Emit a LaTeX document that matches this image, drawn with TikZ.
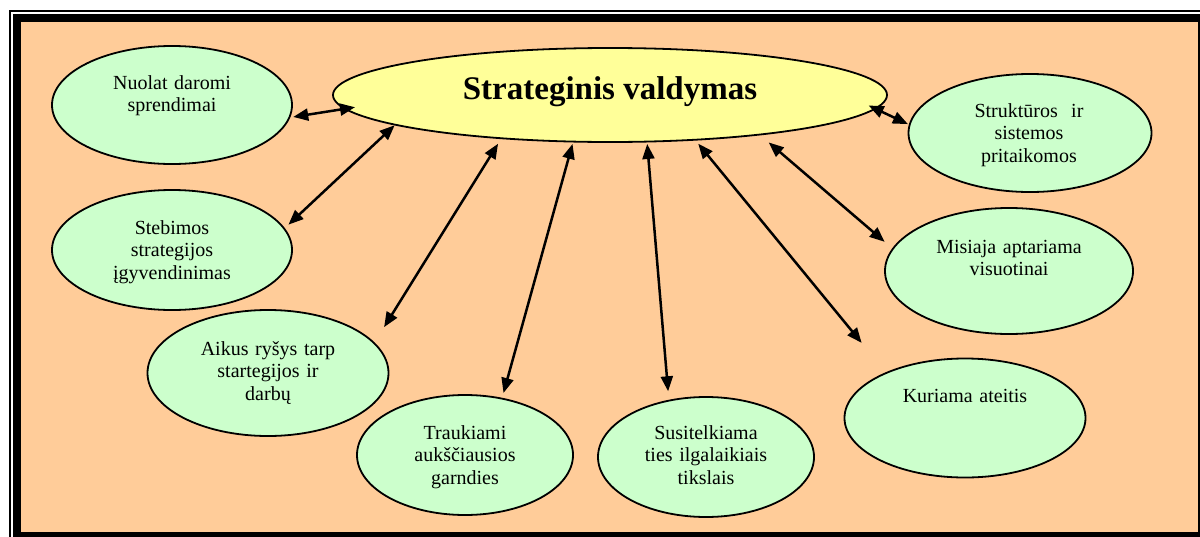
\documentclass[tikz,border=0pt]{standalone}
\usepackage{fontspec}
\setmainfont{Liberation Serif}
\usetikzlibrary{shapes.geometric,arrows.meta}
\definecolor{bgorange}{HTML}{FFCC99}
\definecolor{bubblegreen}{HTML}{CCFFCC}
\definecolor{hubyellow}{HTML}{FFFF99}
\begin{document}
\begin{tikzpicture}[x=1pt,y=-1pt,
  bubble/.style={ellipse, draw=black, line width=1.8pt, fill=bubblegreen, inner sep=0pt},
  hubshape/.style={ellipse, draw=black, line width=1.8pt, fill=hubyellow, inner sep=0pt},
  bubbletext/.style={font=\fontsize{20}{22.5}\selectfont, text width=236pt, align=center, anchor=base, inner sep=0pt},
  twoway/.style={line width=2.5pt, {Triangle[length=15pt,width=12pt]}-{Triangle[length=15pt,width=12pt]}},
]
\useasboundingbox (0,0) rectangle (1200,536);
\fill[white] (0,0) rectangle (1200,536);

% double frame around the orange panel
\begin{scope}
  \clip (0,0) rectangle (1200,536);
  \fill[black] (12.7,14) rectangle (1210,545);
  \fill[bgorange] (20.7,22) rectangle (1197.7,531.5);
  \draw[line width=2pt] (10,545) -- (10,11) -- (1210,11);
\end{scope}

% central ellipse
\node[hubshape, minimum width=554pt, minimum height=94pt] (hub) at (610,95) {};
\node[font=\fontsize{33}{38}\selectfont\bfseries, anchor=base, inner sep=0pt] (title) at (610,99) {Strateginis valdymas};

% surrounding ellipses
\node[bubble, minimum width=240pt, minimum height=118pt] (nuolat) at (172,105) {};
\node[bubbletext] (nuolatT) at (172,89) {Nuolat daromi\\sprendimai};

\node[bubble, minimum width=240pt, minimum height=120pt] (stebimos) at (172,250) {};
\node[bubbletext] (stebimosT) at (172,234) {Stebimos\\strategijos\\įgyvendinimas};

\node[bubble, minimum width=241pt, minimum height=126pt] (aikus) at (268,373) {};
\node[bubbletext] (aikusT) at (268,355) {Aikus ryšys tarp\\startegijos ir\\darbų};

\node[bubble, minimum width=216pt, minimum height=120pt] (traukiami) at (465,455) {};
\node[bubbletext] (traukiamiT) at (465,439) {Traukiami\\aukščiausios\\garndies};

\node[bubble, minimum width=216pt, minimum height=120pt] (susitelkiama) at (706,457) {};
\node[bubbletext] (susitelkiamaT) at (706,439) {Susitelkiama\\ties ilgalaikiais\\tikslais};

\node[bubble, minimum width=241pt, minimum height=119pt] (kuriama) at (965,418) {};
\node[bubbletext] (kuriamaT) at (965,402) {Kuriama ateitis};

\node[bubble, minimum width=248pt, minimum height=126pt] (misiaja) at (1009,271) {};
\node[bubbletext] (misiajaT) at (1009,253) {Misiaja aptariama\\visuotinai};

\node[bubble, minimum width=243pt, minimum height=118pt] (strukturos) at (1030,133) {};
\node[bubbletext] (strukturosT) at (1029,117) {Struktūros~ ir\\sistemos\\pritaikomos};

% two-way connectors to the central ellipse
\draw[twoway, shorten <=3pt, shorten >=-11pt] (nuolat.-6) -- (hub.183);
\draw[twoway, shorten <=5pt] (stebimos.11.5) -- (hub.188.5);
\draw[twoway, shorten <=18pt, shorten >=5.5pt] (aikus.16.5) -- (hub.202);
\draw[twoway, shorten <=5pt, shorten >=1.5pt] (traukiami.57) -- (hub.232);
\draw[twoway, shorten <=8.5pt, shorten >=1.5pt] (susitelkiama.123) -- (hub.-52);
\draw[twoway, shorten <=38pt, shorten >=4pt] (kuriama.150) -- (hub.-28);
\draw[twoway, shorten <=10pt, shorten >=11pt] (misiaja.169) -- (hub.-15);
\draw[twoway, shorten <=1pt, shorten >=-8pt] (strukturos.176) -- (hub.-3);
\end{tikzpicture}
\end{document}
